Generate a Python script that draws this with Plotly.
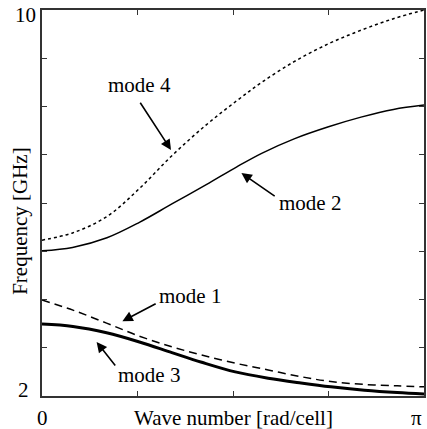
import numpy as np
import plotly.graph_objects as go

# wave number as fraction of pi
k24_over_pi = [0, 0.08, 0.17, 0.255, 0.34, 0.43, 0.51, 0.575, 0.66, 0.75, 0.835, 0.92, 1.0]
mode4 = [5.23, 5.38, 5.72, 6.30, 6.98, 7.62, 8.12, 8.50, 8.93, 9.30, 9.58, 9.82, 10.0]
mode2 = [5.01, 5.08, 5.28, 5.60, 5.98, 6.38, 6.75, 7.03, 7.33, 7.58, 7.78, 7.94, 8.03]

k13_over_pi = [0, 0.081, 0.169, 0.255, 0.34, 0.418, 0.506, 0.592, 0.678, 0.756, 0.844, 0.93, 1.0]
mode1 = [3.99, 3.78, 3.51, 3.24, 3.02, 2.85, 2.68, 2.54, 2.40, 2.30, 2.24, 2.21, 2.19]
mode3 = [3.49, 3.44, 3.31, 3.12, 2.90, 2.70, 2.50, 2.37, 2.27, 2.19, 2.12, 2.07, 2.04]

x_tick_vals_over_pi = [0, 0.25, 0.5, 0.75, 1.0]
y_tick_vals = [2, 3, 4, 5, 6, 7, 8, 9, 10]

k24 = [v * np.pi for v in k24_over_pi]
k13 = [v * np.pi for v in k13_over_pi]
xt = [v * np.pi for v in x_tick_vals_over_pi]

FONT = "Liberation Serif"
FS = 21
tfont = dict(family=FONT, size=FS, color="black")

fig = go.Figure()
fig.add_trace(go.Scatter(x=k24, y=mode4, mode="lines", line=dict(color="black", width=1.5, dash="dot", shape="spline"), name="mode 4"))
fig.add_trace(go.Scatter(x=k24, y=mode2, mode="lines", line=dict(color="black", width=1.5, shape="spline"), name="mode 2"))
fig.add_trace(go.Scatter(x=k13, y=mode1, mode="lines", line=dict(color="black", width=1.5, dash="8px,5px", shape="spline"), name="mode 1"))
fig.add_trace(go.Scatter(x=k13, y=mode3, mode="lines", line=dict(color="black", width=3, shape="spline"), name="mode 3"))

labels = [
    ("mode 4", 0.800, 8.45, 1.061, 7.10, 0.800, 8.11),
    ("mode 2", 2.203, 6.00, 1.640, 6.62, 1.926, 6.12),
    ("mode 1", 1.216, 4.07, 0.661, 3.55, 0.947, 3.93),
    ("mode 3", 0.881, 2.435, 0.449, 3.12, 0.612, 2.60),
]
for txt, tx, ty, hx, hy, sx, sy in labels:
    fig.add_annotation(x=tx, y=ty, text=txt, showarrow=False, font=tfont)
    fig.add_annotation(x=hx, y=hy, ax=sx, ay=sy, axref="x", ayref="y", text="",
                       showarrow=True, arrowhead=2, arrowsize=1.3, arrowwidth=1.6,
                       arrowcolor="black")

# axis end labels
fig.add_annotation(x=0, y=10, xref="paper", yref="y", xshift=-4, yshift=-5, text="10",
                   showarrow=False, xanchor="right", yanchor="middle", font=tfont)
fig.add_annotation(x=0, y=2, xref="paper", yref="y", xshift=-19, yshift=6, text="2",
                   showarrow=False, xanchor="center", yanchor="middle", font=tfont)
fig.add_annotation(x=0, y=0, xref="x", yref="paper", yshift=-22, text="0",
                   showarrow=False, xanchor="center", yanchor="middle", font=tfont)
fig.add_annotation(x=np.pi, y=0, xref="x", yref="paper", yshift=-22, xshift=0, text="π",
                   showarrow=False, xanchor="right", yanchor="middle", font=tfont)
fig.add_annotation(x=0.5, y=0, xref="paper", yref="paper", yshift=-22,
                   text="Wave number [rad/cell]", showarrow=False, yanchor="middle",
                   font=tfont)
fig.add_annotation(x=0, y=5.63, xref="paper", yref="y", xshift=-22,
                   text="Frequency [GHz]", textangle=-90, showarrow=False,
                   xanchor="center", yanchor="middle", font=tfont)

fig.update_xaxes(range=[0, np.pi], tickvals=xt, showticklabels=False, ticks="inside",
                 ticklen=5, tickcolor="#333", showline=True, linecolor="#333", linewidth=1.5,
                 mirror="ticks", showgrid=False, zeroline=False)
fig.update_yaxes(range=[2, 10], tickvals=y_tick_vals, showticklabels=False, ticks="inside",
                 ticklen=5, tickcolor="#333", showline=True, linecolor="#333", linewidth=1.5,
                 mirror="ticks", showgrid=False, zeroline=False)

fig.update_layout(width=427, height=429, margin=dict(l=42, r=1, t=10, b=33),
                  plot_bgcolor="white", paper_bgcolor="white", showlegend=False,
                  font=dict(family=FONT, size=FS, color="black"))

fig.write_html("out.html")
